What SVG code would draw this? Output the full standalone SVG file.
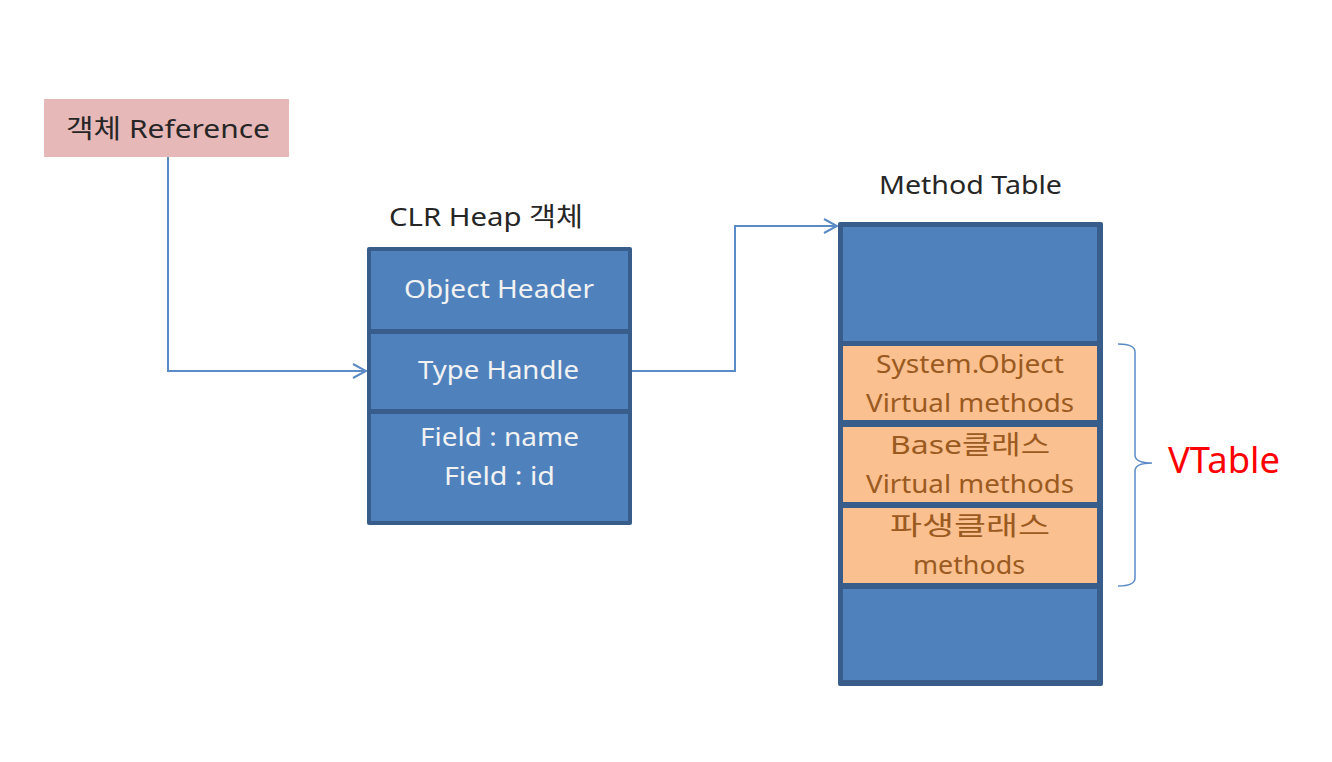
<svg xmlns="http://www.w3.org/2000/svg" width="1332" height="762" viewBox="0 0 1332 762">
<defs>
<style>
.t{font-family:"Noto Sans","Noto Sans CJK KR",sans-serif;font-size:26px;text-anchor:middle}
.dark{fill:#262626}
.w{fill:#f2f2f2}
.o{fill:#9a5a20}
.blue{fill:#4f81bd}
.org{fill:#fac090}
.edge{fill:none;stroke:#5b8bc6;stroke-width:2}
</style>
<marker id="arr" markerWidth="16" markerHeight="16" refX="14" refY="8" orient="auto" markerUnits="userSpaceOnUse">
<path d="M1,1 L14,8 L1,15" fill="none" stroke="#5b8bc6" stroke-width="2"/>
</marker>
</defs>
<rect width="1332" height="762" fill="#fff"/>
<g id="connectors">
<path class="edge" d="M168,157 V371 H366" marker-end="url(#arr)"/>
<path class="edge" d="M632,371 H735 V226 H837" marker-end="url(#arr)"/>
<path d="M1118,344 Q1135,344 1135,352 V455 Q1135,463 1152,463 Q1135,463 1135,471 V578 Q1135,586 1118,586" fill="none" stroke="#5b8bc6" stroke-width="1.5"/>
</g>
<g id="ref">
<rect x="44" y="99" width="245" height="58" fill="#e6b9b8"/>
<text class="t dark" x="168" y="138" textLength="204" lengthAdjust="spacingAndGlyphs">객체 Reference</text>
</g>
<g id="heap">
<text class="t dark" x="486" y="226" textLength="194" lengthAdjust="spacingAndGlyphs">CLR Heap 객체</text>
<rect x="367" y="247" width="265" height="278" fill="#385d8a" rx="2"/>
<rect class="blue" x="371" y="251" width="257" height="78"/>
<rect class="blue" x="371" y="334" width="257" height="75"/>
<rect class="blue" x="371" y="414" width="257" height="107"/>
<text class="t w" x="499" y="298" textLength="190" lengthAdjust="spacingAndGlyphs">Object Header</text>
<text class="t w" x="498.5" y="379" textLength="161" lengthAdjust="spacingAndGlyphs">Type Handle</text>
<text class="t w" x="499.5" y="446" textLength="159" lengthAdjust="spacingAndGlyphs">Field : name</text>
<text class="t w" x="499.5" y="485" textLength="111" lengthAdjust="spacingAndGlyphs">Field : id</text>
</g>
<g id="methodtable">
<text class="t dark" x="970.5" y="194" textLength="183" lengthAdjust="spacingAndGlyphs">Method  Table</text>
<rect x="838" y="222" width="265" height="464" fill="#385d8a" rx="2"/>
<rect class="blue" x="843" y="227" width="254" height="114"/>
<rect class="org" x="843" y="346" width="254" height="74"/>
<rect class="org" x="843" y="427" width="254" height="75"/>
<rect class="org" x="843" y="508" width="254" height="75"/>
<rect class="blue" x="843" y="589" width="254" height="91"/>
<text class="t o" x="970" y="373" textLength="188" lengthAdjust="spacingAndGlyphs">System.Object</text>
<text class="t o" x="970" y="412" textLength="208" lengthAdjust="spacingAndGlyphs">Virtual methods</text>
<text class="t o" x="970" y="454" textLength="160" lengthAdjust="spacingAndGlyphs">Base클래스</text>
<text class="t o" x="970" y="493" textLength="208" lengthAdjust="spacingAndGlyphs">Virtual methods</text>
<text class="t o" x="970" y="535" textLength="160" lengthAdjust="spacingAndGlyphs">파생클래스</text>
<text class="t o" x="969" y="574" textLength="112" lengthAdjust="spacingAndGlyphs">methods</text>
</g>
<g id="vtable">
<text x="1168" y="473" textLength="112" lengthAdjust="spacingAndGlyphs" style="font-family:'Noto Sans',sans-serif;font-size:36px;fill:#ff0000">VTable</text>
</g>
</svg>
